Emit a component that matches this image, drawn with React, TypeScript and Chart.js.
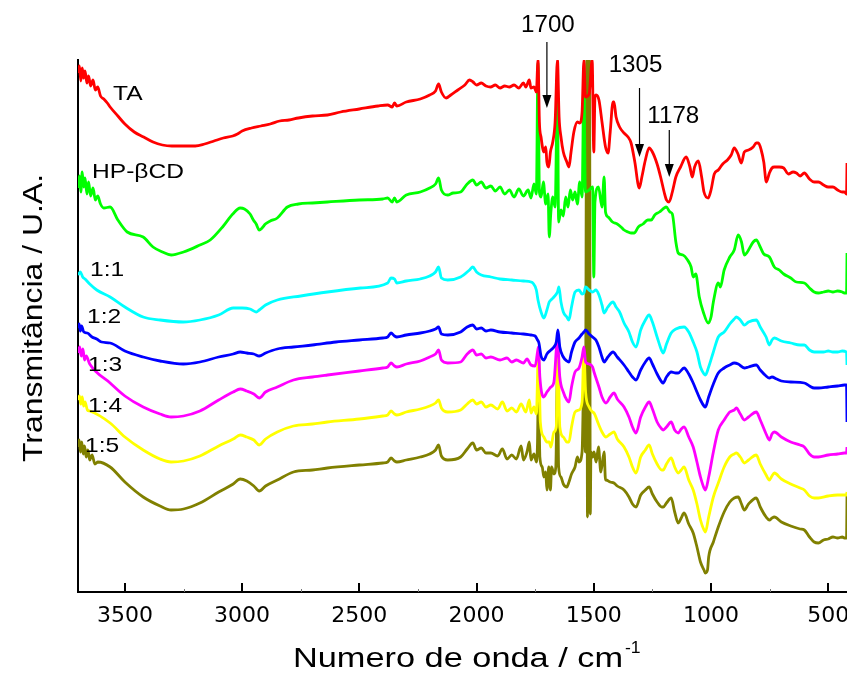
import React, { useEffect, useRef } from "react";
import { Chart, registerables } from "chart.js";

Chart.register(...registerables);

// [wavenumber (cm-1), transmittance (U.A., offset)]
const TA: [number, number][] = [
  [3700, 519], [3694, 526], [3688, 511], [3682, 524], [3676, 514], [3670, 521], [3662, 509], [3655, 516],
  [3646, 506], [3636, 512], [3626, 502], [3616, 505], [3604, 496], [3590, 493], [3575, 489], [3563, 485],
  [3530, 476], [3500, 468], [3460, 460], [3420, 455], [3380, 450], [3340, 447], [3300, 446], [3250, 446],
  [3200, 446], [3160, 448], [3120, 451], [3080, 454], [3040, 456], [3020, 458], [3000, 461], [2960, 464],
  [2920, 466], [2880, 468], [2840, 471], [2800, 472], [2760, 474], [2700, 476], [2636, 477], [2580, 480],
  [2500, 483], [2420, 486], [2379, 487], [2360, 485], [2350, 489], [2340, 486], [2300, 490], [2240, 493],
  [2200, 497], [2175, 501], [2162, 508], [2150, 500], [2130, 494], [2110, 497], [2080, 502], [2050, 507],
  [2030, 512], [2015, 510], [2000, 507], [1980, 509], [1960, 506], [1940, 505], [1920, 507], [1900, 504],
  [1880, 506], [1860, 505], [1840, 507], [1820, 504], [1800, 509], [1790, 505], [1775, 512], [1768, 504],
  [1755, 505], [1745, 500], [1738, 532], [1732, 470], [1725, 455], [1713, 440], [1705, 445], [1700, 430],
  [1692, 425], [1685, 440], [1675, 450], [1665, 470], [1655, 532], [1648, 475], [1640, 455], [1630, 440],
  [1615, 430], [1606, 425], [1597, 440], [1585, 460], [1570, 470], [1560, 469], [1550, 480], [1542, 532],
  [1536, 495], [1520, 498], [1507, 532], [1500, 440], [1495, 495], [1490, 497], [1478, 492], [1465, 470],
  [1450, 445], [1439, 439], [1430, 460], [1418, 490], [1414, 490], [1405, 475], [1390, 465], [1371, 459],
  [1354, 455], [1341, 449], [1325, 430], [1306, 404], [1295, 415], [1280, 432], [1264, 444], [1250, 440],
  [1230, 428], [1215, 415], [1200, 400], [1190, 392], [1179, 390], [1165, 400], [1150, 415], [1130, 425],
  [1106, 435], [1090, 425], [1080, 415], [1070, 425], [1054, 431], [1040, 415], [1030, 400], [1012, 394],
  [1000, 402], [986, 418], [969, 422], [950, 428], [930, 432], [914, 437], [901, 444], [885, 438],
  [871, 429], [858, 440], [840, 442], [820, 445], [807, 449], [798, 449], [786, 442], [775, 430],
  [764, 410], [751, 419], [740, 424], [730, 425], [709, 425], [690, 424], [670, 418], [650, 420],
  [636, 419], [620, 416], [602, 419], [580, 413], [560, 410], [542, 410], [520, 407], [500, 405],
  [480, 405], [460, 402], [440, 400], [431, 400], [422, 398], [420, 429],
];

const HP_BCD: [number, number][] = [
  [3700, 404], [3694, 416], [3688, 400], [3682, 420], [3676, 405], [3670, 414], [3662, 398], [3655, 410],
  [3646, 396], [3636, 404], [3626, 392], [3616, 396], [3604, 388], [3590, 384], [3563, 385], [3530, 372],
  [3490, 360], [3422, 355], [3380, 345], [3340, 340], [3303, 337], [3250, 340], [3180, 347], [3136, 352],
  [3080, 366], [3040, 378], [3008, 384], [2990, 383], [2966, 378], [2952, 372], [2940, 368], [2927, 362],
  [2915, 364], [2901, 368], [2880, 371], [2850, 374], [2807, 385], [2760, 388], [2700, 389], [2636, 390],
  [2500, 392], [2400, 393], [2379, 394], [2360, 390], [2350, 394], [2340, 390], [2300, 397], [2240, 400],
  [2200, 404], [2175, 408], [2162, 414], [2150, 402], [2123, 397], [2100, 399], [2068, 400], [2040, 408],
  [2016, 412], [2000, 407], [1980, 410], [1960, 404], [1939, 406], [1920, 401], [1900, 405], [1880, 398],
  [1860, 402], [1840, 395], [1820, 403], [1800, 396], [1780, 402], [1768, 394], [1755, 408], [1745, 398],
  [1738, 529], [1732, 400], [1725, 395], [1715, 410], [1705, 388], [1695, 398], [1690, 355], [1683, 380],
  [1675, 395], [1665, 385], [1655, 504], [1650, 370], [1640, 382], [1630, 376], [1620, 395], [1610, 385],
  [1600, 402], [1590, 392], [1580, 400], [1570, 388], [1560, 410], [1550, 395], [1542, 515], [1536, 400],
  [1520, 402], [1505, 405], [1500, 315], [1495, 390], [1480, 405], [1465, 385], [1456, 415], [1450, 380],
  [1439, 375], [1420, 370], [1400, 368], [1384, 365], [1371, 362], [1354, 360], [1340, 359], [1328, 359],
  [1310, 365], [1290, 368], [1270, 372], [1255, 372], [1240, 377], [1220, 380], [1200, 384], [1191, 385],
  [1175, 380], [1165, 378], [1150, 350], [1140, 339], [1120, 337], [1100, 332], [1085, 325], [1076, 315],
  [1065, 318], [1050, 295], [1033, 280], [1012, 269], [1000, 275], [990, 290], [969, 309], [960, 305],
  [944, 322], [920, 335], [901, 342], [884, 357], [870, 350], [858, 337], [845, 340], [820, 350],
  [807, 352], [790, 345], [775, 338], [751, 335], [730, 325], [709, 322], [690, 318], [660, 314],
  [636, 310], [602, 309], [580, 304], [560, 300], [542, 299], [520, 300], [500, 301], [480, 300],
  [460, 301], [440, 300], [431, 299], [422, 299], [420, 339],
];

const R11: [number, number][] = [
  [3700, 317], [3690, 320], [3680, 315], [3670, 313], [3650, 308], [3620, 302], [3563, 295], [3500, 285],
  [3422, 275], [3350, 272], [3251, 270], [3180, 272], [3100, 277], [3038, 284], [3000, 284], [2966, 283],
  [2940, 280], [2927, 282], [2900, 287], [2850, 292], [2750, 296], [2636, 300], [2495, 304], [2379, 309],
  [2365, 314], [2350, 313], [2340, 309], [2300, 311], [2240, 313], [2200, 316], [2175, 320], [2162, 325],
  [2150, 314], [2123, 312], [2068, 315], [2030, 322], [2016, 325], [2000, 320], [1980, 317], [1939, 315],
  [1900, 313], [1850, 312], [1800, 311], [1768, 310], [1760, 309], [1745, 302], [1738, 292], [1725, 280],
  [1713, 274], [1700, 282], [1690, 290], [1683, 292], [1670, 295], [1655, 300], [1649, 305], [1640, 290],
  [1630, 280], [1615, 275], [1606, 272], [1595, 285], [1580, 300], [1563, 302], [1550, 298], [1542, 299],
  [1535, 305], [1520, 302], [1505, 300], [1491, 302], [1478, 297], [1465, 287], [1456, 279], [1440, 285],
  [1418, 290], [1405, 285], [1390, 280], [1371, 269], [1350, 260], [1335, 250], [1320, 245], [1300, 262],
  [1280, 272], [1264, 277], [1250, 270], [1230, 255], [1210, 241], [1204, 239], [1190, 248], [1170, 259],
  [1150, 263], [1115, 265], [1095, 260], [1076, 250], [1060, 240], [1045, 225], [1030, 218], [1024, 217],
  [1010, 225], [990, 240], [969, 255], [944, 260], [920, 268], [901, 273], [892, 275], [875, 272],
  [858, 267], [840, 270], [807, 272], [790, 265], [765, 255], [751, 247], [740, 252], [730, 254],
  [700, 251], [660, 249], [620, 247], [602, 247], [580, 242], [560, 240], [542, 240], [520, 240],
  [500, 241], [480, 240], [460, 240], [440, 241], [422, 240], [420, 227],
];

const R12: [number, number][] = [
  [3700, 264], [3695, 268], [3690, 261], [3685, 266], [3675, 260], [3660, 259], [3640, 255], [3620, 253],
  [3600, 250], [3563, 249], [3500, 241], [3422, 235], [3350, 231], [3251, 228], [3180, 230], [3100, 235],
  [3038, 238], [3008, 240], [2980, 239], [2950, 238], [2927, 236], [2900, 239], [2850, 243], [2781, 245],
  [2700, 247], [2600, 250], [2500, 252], [2400, 254], [2379, 255], [2365, 259], [2350, 256], [2340, 255],
  [2300, 257], [2240, 259], [2200, 261], [2175, 263], [2162, 265], [2150, 258], [2123, 257], [2068, 260],
  [2040, 265], [2016, 267], [2000, 263], [1980, 264], [1960, 261], [1939, 262], [1900, 260], [1850, 259],
  [1800, 258], [1768, 257], [1750, 256], [1740, 252], [1734, 249], [1725, 236], [1713, 232], [1700, 238],
  [1683, 242], [1670, 245], [1660, 250], [1653, 262], [1645, 245], [1630, 235], [1615, 231], [1606, 230],
  [1595, 240], [1580, 250], [1563, 254], [1550, 258], [1542, 260], [1535, 262], [1520, 258], [1505, 255],
  [1491, 252], [1478, 245], [1465, 235], [1456, 230], [1440, 235], [1418, 240], [1400, 235], [1371, 227],
  [1350, 220], [1335, 215], [1320, 212], [1300, 222], [1280, 230], [1264, 234], [1250, 228], [1230, 218],
  [1210, 210], [1204, 209], [1190, 215], [1170, 220], [1150, 219], [1140, 219], [1115, 224], [1095, 218],
  [1076, 209], [1060, 200], [1045, 192], [1030, 186], [1024, 185], [1010, 195], [990, 208], [969, 219],
  [944, 224], [920, 227], [901, 229], [884, 228], [858, 224], [840, 225], [807, 227], [790, 222],
  [765, 216], [751, 214], [740, 215], [720, 213], [700, 211], [660, 210], [602, 209], [580, 206],
  [560, 204], [542, 204], [500, 205], [460, 206], [431, 207], [422, 207], [420, 170],
];

const R13: [number, number][] = [
  [3700, 239], [3693, 245], [3686, 236], [3679, 243], [3672, 232], [3665, 236], [3650, 228], [3563, 209],
  [3500, 196], [3422, 185], [3350, 178], [3303, 175], [3250, 176], [3180, 181], [3100, 192], [3038, 200],
  [3008, 203], [2980, 201], [2950, 198], [2927, 194], [2900, 200], [2850, 205], [2781, 212], [2700, 215],
  [2636, 217], [2500, 221], [2400, 224], [2379, 225], [2365, 229], [2350, 226], [2340, 225], [2300, 228],
  [2240, 231], [2200, 235], [2175, 238], [2162, 242], [2150, 232], [2123, 229], [2068, 230], [2040, 238],
  [2016, 242], [2000, 237], [1980, 238], [1960, 234], [1939, 235], [1900, 232], [1870, 234], [1850, 230],
  [1830, 232], [1800, 229], [1785, 233], [1768, 227], [1750, 226], [1740, 240], [1736, 245], [1730, 215],
  [1713, 195], [1700, 200], [1690, 203], [1683, 205], [1670, 210], [1655, 252], [1645, 215], [1630, 200],
  [1615, 192], [1606, 190], [1595, 205], [1580, 220], [1563, 224], [1550, 235], [1542, 245], [1535, 230],
  [1520, 228], [1505, 225], [1499, 220], [1478, 205], [1465, 195], [1448, 189], [1430, 195], [1414, 199],
  [1400, 193], [1371, 185], [1350, 175], [1335, 165], [1320, 159], [1300, 175], [1280, 185], [1264, 190],
  [1250, 183], [1230, 170], [1210, 163], [1204, 162], [1190, 165], [1170, 170], [1155, 162], [1140, 159],
  [1127, 163], [1115, 165], [1095, 155], [1076, 145], [1060, 130], [1045, 115], [1030, 104], [1024, 102],
  [1010, 115], [990, 140], [969, 162], [944, 172], [920, 180], [901, 182], [892, 184], [875, 178],
  [858, 172], [840, 175], [807, 180], [790, 172], [765, 158], [751, 152], [740, 158], [730, 160],
  [700, 155], [660, 150], [620, 147], [602, 145], [580, 138], [560, 135], [542, 135], [500, 137],
  [460, 138], [431, 139], [422, 139], [420, 145],
];

const R14: [number, number][] = [
  [3700, 192], [3694, 196], [3688, 188], [3682, 195], [3676, 186], [3670, 190], [3660, 182], [3650, 181],
  [3563, 169], [3500, 155], [3422, 142], [3350, 133], [3303, 130], [3250, 131], [3180, 136], [3100, 146],
  [3038, 153], [3008, 157], [2980, 155], [2950, 152], [2927, 147], [2900, 153], [2850, 160], [2781, 166],
  [2700, 168], [2636, 170], [2500, 173], [2400, 176], [2379, 177], [2365, 181], [2350, 178], [2340, 177],
  [2300, 180], [2240, 183], [2200, 186], [2175, 189], [2162, 192], [2150, 184], [2123, 180], [2068, 182],
  [2040, 188], [2016, 192], [2000, 188], [1980, 190], [1960, 185], [1939, 187], [1910, 183], [1890, 190],
  [1870, 181], [1850, 184], [1830, 180], [1810, 188], [1790, 180], [1775, 192], [1768, 179], [1755, 185],
  [1745, 178], [1736, 242], [1728, 170], [1713, 155], [1700, 150], [1690, 150], [1683, 145], [1670, 160],
  [1660, 165], [1653, 247], [1645, 165], [1630, 155], [1615, 150], [1606, 150], [1595, 165], [1580, 180],
  [1563, 182], [1550, 190], [1542, 240], [1535, 200], [1520, 185], [1505, 180], [1499, 179], [1480, 168],
  [1465, 160], [1448, 155], [1430, 158], [1414, 160], [1400, 153], [1371, 145], [1350, 135], [1335, 125],
  [1320, 119], [1300, 135], [1280, 142], [1264, 147], [1250, 138], [1230, 128], [1210, 122], [1204, 122],
  [1190, 128], [1170, 134], [1155, 125], [1140, 119], [1127, 122], [1115, 125], [1095, 112], [1076, 102],
  [1060, 88], [1045, 72], [1030, 62], [1024, 60], [1010, 75], [990, 95], [969, 109], [944, 125],
  [920, 135], [901, 138], [892, 139], [875, 135], [858, 129], [840, 132], [807, 137], [790, 128],
  [765, 117], [751, 112], [740, 116], [730, 119], [700, 113], [660, 108], [620, 104], [602, 102],
  [580, 96], [560, 94], [542, 94], [500, 96], [460, 97], [431, 97], [422, 97], [420, 100],
];

const R15: [number, number][] = [
  [3700, 145], [3695, 152], [3690, 140], [3684, 150], [3678, 138], [3672, 146], [3665, 135], [3658, 142],
  [3650, 132], [3640, 137], [3628, 128], [3615, 130], [3563, 125], [3500, 110], [3422, 95], [3350, 86],
  [3303, 82], [3250, 83], [3180, 89], [3100, 100], [3038, 108], [3008, 113], [2980, 111], [2950, 106],
  [2927, 101], [2900, 106], [2850, 112], [2781, 120], [2700, 122], [2636, 124], [2500, 127], [2400, 129],
  [2379, 130], [2365, 134], [2350, 131], [2340, 130], [2300, 132], [2240, 135], [2200, 138], [2175, 142],
  [2162, 147], [2150, 136], [2123, 132], [2068, 135], [2040, 143], [2016, 149], [2000, 142], [1980, 144],
  [1960, 139], [1939, 139], [1910, 136], [1890, 143], [1870, 133], [1850, 137], [1830, 133], [1810, 146],
  [1800, 132], [1785, 140], [1775, 150], [1768, 132], [1755, 138], [1745, 130], [1740, 150], [1736, 219],
  [1730, 135], [1720, 125], [1713, 115], [1705, 120], [1700, 102], [1692, 125], [1685, 102], [1680, 125],
  [1670, 118], [1662, 125], [1655, 219], [1650, 125], [1640, 115], [1630, 108], [1615, 105], [1606, 110],
  [1595, 118], [1580, 125], [1570, 135], [1563, 130], [1550, 140], [1542, 215], [1536, 140], [1530, 532],
  [1527, 75], [1524, 532], [1521, 80], [1518, 532], [1515, 78], [1512, 140], [1505, 135], [1499, 140],
  [1490, 130], [1480, 145], [1470, 120], [1456, 140], [1450, 112], [1448, 112], [1430, 110], [1414, 109],
  [1400, 106], [1371, 102], [1350, 95], [1335, 88], [1320, 85], [1300, 97], [1280, 102], [1264, 105],
  [1250, 98], [1230, 90], [1210, 85], [1204, 85], [1190, 89], [1170, 94], [1155, 80], [1140, 69],
  [1127, 74], [1115, 79], [1095, 68], [1076, 59], [1060, 45], [1045, 30], [1030, 22], [1024, 19],
  [1015, 22], [1010, 35], [990, 50], [969, 65], [944, 80], [920, 90], [901, 94], [884, 95],
  [870, 88], [858, 82], [840, 88], [807, 94], [790, 85], [765, 75], [751, 72], [740, 74],
  [730, 75], [700, 70], [660, 66], [620, 63], [602, 62], [580, 55], [560, 50], [542, 49],
  [520, 52], [500, 53], [480, 55], [460, 54], [440, 55], [431, 54], [422, 54], [420, 97],
];

const SERIES = [TA, HP_BCD, R11, R12, R13, R14, R15];
const SERIES_NAMES = ["TA", "HP-\u03b2CD", "1:1", "1:2", "1:3", "1:4", "1:5"];
const SERIES_COLORS = ["#ff0000", "#00ff00", "#00ffff", "#0000ff", "#ff00ff", "#ffff00", "#808000"];

const X_TICKS = [3500, 3000, 2500, 2000, 1500, 1000, 500];
const X_MINOR_TICKS = [3250, 2750, 2250, 1750, 1250, 750];

const PEAK_LABELS = ["1700", "1305", "1178"];
const PEAK_WAVENUMBERS = [1700, 1305, 1178];
const PEAK_ARROW_TOP = [550, 504, 462];
const PEAK_ARROW_TIP = [484, 435, 415];

const X_TITLE = "Numero de onda / cm";
const X_TITLE_SUP = "-1";
const Y_TITLE = "Transmit\u00e2ncia / U.A.";

// layout (pixels)
const LABEL_POS: [number, number][] = [
  [113, 100], [92, 178], [90, 276], [87, 323], [88, 371], [88, 412], [85, 452],
];
const PEAK_LABEL_OFFSET: [number, number][] = [[1, -10], [-4, -16], [4, -7]];

function drawStretched(
  ctx: CanvasRenderingContext2D,
  text: string,
  x: number,
  y: number,
  font: string,
  sx: number,
  align: CanvasTextAlign,
  rotate = 0
) {
  ctx.save();
  ctx.translate(x, y);
  if (rotate) ctx.rotate(rotate);
  ctx.scale(sx, 1);
  ctx.font = font;
  ctx.textAlign = align;
  ctx.textBaseline = "alphabetic";
  ctx.fillStyle = "#000";
  ctx.fillText(text, 0, 0);
  ctx.restore();
}

const overlayPlugin = {
  id: "overlay",
  afterDraw(chart: any) {
    const ctx: CanvasRenderingContext2D = chart.ctx;
    const xs = chart.scales.x;
    const ys = chart.scales.y;
    const area = chart.chartArea;
    ctx.save();
    // inward major ticks
    ctx.strokeStyle = "#000";
    ctx.lineWidth = 2;
    X_TICKS.forEach((v) => {
      const px = Math.round(xs.getPixelForValue(v));
      ctx.beginPath();
      ctx.moveTo(px, area.bottom);
      ctx.lineTo(px, area.bottom - 9);
      ctx.stroke();
    });
    ctx.strokeStyle = "#777";
    ctx.lineWidth = 1;
    X_MINOR_TICKS.forEach((v) => {
      const px = Math.round(xs.getPixelForValue(v)) + 0.5;
      ctx.beginPath();
      ctx.moveTo(px, area.bottom);
      ctx.lineTo(px, area.bottom - 3);
      ctx.stroke();
    });

    // series labels
    SERIES_NAMES.forEach((name, i) => {
      const [lx, ly] = LABEL_POS[i];
      drawStretched(ctx, name, lx, ly, "21px 'Liberation Sans', Arial, sans-serif", 1.17, "left");
    });

    // peak annotations with arrows
    PEAK_LABELS.forEach((lab, i) => {
      const px = xs.getPixelForValue(PEAK_WAVENUMBERS[i]);
      const top = ys.getPixelForValue(PEAK_ARROW_TOP[i]);
      const tip = ys.getPixelForValue(PEAK_ARROW_TIP[i]);
      ctx.strokeStyle = "#000";
      ctx.fillStyle = "#000";
      ctx.lineWidth = 1.2;
      ctx.beginPath();
      ctx.moveTo(px, top);
      ctx.lineTo(px, tip - 10);
      ctx.stroke();
      ctx.beginPath();
      ctx.moveTo(px - 4.5, tip - 13);
      ctx.lineTo(px + 4.5, tip - 13);
      ctx.lineTo(px, tip);
      ctx.closePath();
      ctx.fill();
      const [ox, oy] = PEAK_LABEL_OFFSET[i];
      drawStretched(ctx, lab, px + ox, top + oy, "23px 'Liberation Sans', Arial, sans-serif", 1.05, "center");
    });

    // axis titles
    const xFont = "27px 'Liberation Sans', Arial, sans-serif";
    ctx.font = xFont;
    const wMain = ctx.measureText(X_TITLE).width;
    const sxX = 330 / wMain;
    const xLeft = 293;
    drawStretched(ctx, X_TITLE, xLeft, 667, xFont, sxX, "left");
    drawStretched(ctx, X_TITLE_SUP, xLeft + wMain * sxX + 2, 653, "16px 'Liberation Sans', Arial, sans-serif", 1.1, "left");

    const yFont = "27px 'Liberation Sans', Arial, sans-serif";
    ctx.font = yFont;
    const wY = ctx.measureText(Y_TITLE).width;
    const sxY = 288 / wY;
    drawStretched(ctx, Y_TITLE, 42, 318, yFont, sxY, "center", -Math.PI / 2);
    ctx.restore();
  },
};

export default function App() {
  const canvasRef = useRef<HTMLCanvasElement | null>(null);

  useEffect(() => {
    const canvas = canvasRef.current;
    if (!canvas) return;
    const chart = new Chart(canvas, {
      type: "line",
      data: {
        datasets: SERIES.map((s, i) => ({
          label: SERIES_NAMES[i],
          data: s.map(([x, y]) => ({ x, y })),
          borderColor: SERIES_COLORS[i],
          backgroundColor: SERIES_COLORS[i],
          borderWidth: 2.8,
          pointRadius: 0,
          fill: false,
          cubicInterpolationMode: "monotone" as const,
        })),
      },
      options: {
        responsive: false,
        animation: false,
        layout: { padding: { top: 60, right: 0, left: 0, bottom: 0 } },
        plugins: { legend: { display: false }, tooltip: { enabled: false }, title: { display: false } },
        scales: {
          x: {
            type: "linear",
            reverse: true,
            min: 420,
            max: 3700,
            grid: { display: true, drawOnChartArea: false, drawTicks: false },
            border: { display: true, color: "#000", width: 2 },
            ticks: {
              autoSkip: false,
              maxRotation: 0,
              minRotation: 0,
              padding: 11,
              color: "#000",
              font: { family: "'DejaVu Sans', sans-serif", size: 22 },
              callback: (v: any) => String(v),
            },
            afterBuildTicks: (s: any) => {
              s.ticks = X_TICKS.map((v) => ({ value: v }));
            },
            afterFit: (s: any) => {
              s.height = 83;
              s.paddingLeft = 0;
              s.paddingRight = 0;
            },
          },
          y: {
            type: "linear",
            min: 0,
            max: 532,
            grid: { display: true, drawOnChartArea: false, drawTicks: false },
            border: { display: true, color: "#000", width: 2 },
            ticks: { display: false },
            afterFit: (s: any) => {
              s.width = 78;
            },
          },
        },
      },
      plugins: [overlayPlugin],
    });
    return () => chart.destroy();
  }, []);

  return (
    <div style={{ position: "absolute", left: 0, top: 0, width: 847, height: 675, background: "#fff" }}>
      <canvas ref={canvasRef} width={847} height={675} style={{ display: "block" }} />
    </div>
  );
}
